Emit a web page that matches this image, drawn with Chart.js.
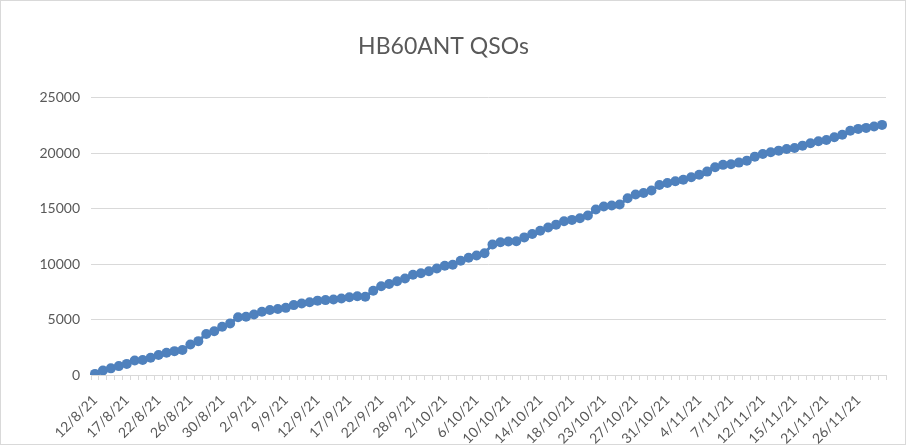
<!DOCTYPE html>
<html>
<head>
<meta charset="utf-8">
<script src="https://cdn.jsdelivr.net/npm/chart.js@4"></script>
<style>
  html, body { margin: 0; padding: 0; background: #fff; }
  #wrap { width: 906px; height: 445px; position: relative; }
</style>
</head>
<body>
<div id="wrap"><canvas id="qsoChart"></canvas></div>
<script>
// dates (only every 4th one is labelled on the axis)
const dates = [
  '12/8/21','13/8/21','14/8/21','16/8/21',
  '17/8/21','18/8/21','20/8/21','21/8/21',
  '22/8/21','23/8/21','24/8/21','25/8/21',
  '26/8/21','27/8/21','28/8/21','29/8/21',
  '30/8/21','31/8/21','1/9/21','1/9/21',
  '2/9/21','4/9/21','6/9/21','7/9/21',
  '9/9/21','10/9/21','10/9/21','11/9/21',
  '12/9/21','13/9/21','14/9/21','16/9/21',
  '17/9/21','18/9/21','20/9/21','21/9/21',
  '22/9/21','24/9/21','25/9/21','27/9/21',
  '28/9/21','29/9/21','30/9/21','1/10/21',
  '2/10/21','3/10/21','4/10/21','5/10/21',
  '6/10/21','7/10/21','8/10/21','9/10/21',
  '10/10/21','11/10/21','12/10/21','13/10/21',
  '14/10/21','15/10/21','16/10/21','17/10/21',
  '18/10/21','19/10/21','20/10/21','22/10/21',
  '23/10/21','24/10/21','25/10/21','26/10/21',
  '27/10/21','28/10/21','29/10/21','30/10/21',
  '31/10/21','1/11/21','2/11/21','3/11/21',
  '4/11/21','5/11/21','5/11/21','6/11/21',
  '7/11/21','8/11/21','9/11/21','11/11/21',
  '12/11/21','13/11/21','13/11/21','14/11/21',
  '15/11/21','17/11/21','18/11/21','20/11/21',
  '21/11/21','22/11/21','23/11/21','25/11/21',
  '26/11/21','27/11/21','28/11/21','29/11/21'
];

// cumulative QSOs
const qsos = [
  100, 400, 600, 800, 1000, 1300, 1350, 1550, 1800, 2000,
  2150, 2250, 2750, 3050, 3700, 3950, 4350, 4650, 5200, 5250,
  5450, 5700, 5850, 5950, 6050, 6300, 6450, 6550, 6700, 6750,
  6800, 6900, 7000, 7100, 7050, 7600, 8000, 8200, 8450, 8700,
  9030, 9170, 9350, 9600, 9840, 9930, 10300, 10560, 10770, 10970,
  11760, 11960, 12030, 12060, 12400, 12700, 13000, 13300, 13550, 13850,
  13980, 14130, 14370, 14910, 15180, 15270, 15360, 15930, 16260, 16410,
  16620, 17130, 17310, 17460, 17590, 17820, 18040, 18330, 18720, 18940,
  19000, 19140, 19320, 19680, 19920, 20070, 20220, 20370, 20460, 20670,
  20880, 21060, 21180, 21420, 21660, 22020, 22180, 22270, 22390, 22540
];

const yTicks = [0, 5000, 10000, 15000, 20000, 25000];

const textGrey = '#595959';
const lineGrey = '#d9d9d9';
const blue = '#4f81bd';
const fontFam = 'Lato, "Liberation Sans", sans-serif';

const frame = {
  id: 'frame',
  beforeDraw(chart) {
    const c = chart.ctx;
    c.save();
    c.fillStyle = '#fff';
    c.fillRect(0, 0, chart.width, chart.height);
    c.strokeStyle = lineGrey;
    c.lineWidth = 1;
    c.strokeRect(0.5, 0.5, chart.width - 1, chart.height - 1);
    c.restore();
  }
};

new Chart(document.getElementById('qsoChart'), {
  type: 'line',
  data: {
    labels: dates,
    datasets: [{
      label: 'QSOs',
      data: qsos,
      borderColor: blue,
      backgroundColor: blue,
      borderWidth: 3,
      pointRadius: 5,
      pointBorderWidth: 0,
      pointBackgroundColor: blue,
      tension: 0
    }]
  },
  options: {
    responsive: true,
    maintainAspectRatio: false,
    animation: false,
    layout: { padding: { left: 0, right: 19, top: 0, bottom: 0 } },
    plugins: {
      legend: { display: false },
      tooltip: { enabled: false },
      title: {
        display: true,
        text: 'HB60ANT QSOs',
        color: textGrey,
        font: { family: fontFam, size: 23, weight: 'normal' },
        padding: { top: 33, bottom: 37 }
      }
    },
    scales: {
      x: {
        offset: true,
        grid: {
          offset: true,
          drawOnChartArea: false,
          drawTicks: true,
          tickLength: 5,
          color: lineGrey
        },
        border: { color: lineGrey, width: 1 },
        ticks: {
          autoSkip: false,
          minRotation: 45,
          maxRotation: 45,
          padding: 12,
          color: textGrey,
          font: { family: fontFam, size: 14 },
          callback: (v, i) => (i % 4 === 0 ? dates[i] : '')
        },
        afterFit: s => { s.height = 70; }
      },
      y: {
        min: 0,
        max: 25000,
        afterBuildTicks: s => { s.ticks = yTicks.map(v => ({ value: v })); },
        grid: { color: lineGrey, drawTicks: false },
        border: { display: false },
        ticks: {
          padding: 11,
          color: textGrey,
          font: { family: fontFam, size: 14 },
          callback: v => String(v)
        },
        afterFit: s => { s.width = 91; }
      }
    }
  },
  plugins: [frame]
});
</script>
</body>
</html>
